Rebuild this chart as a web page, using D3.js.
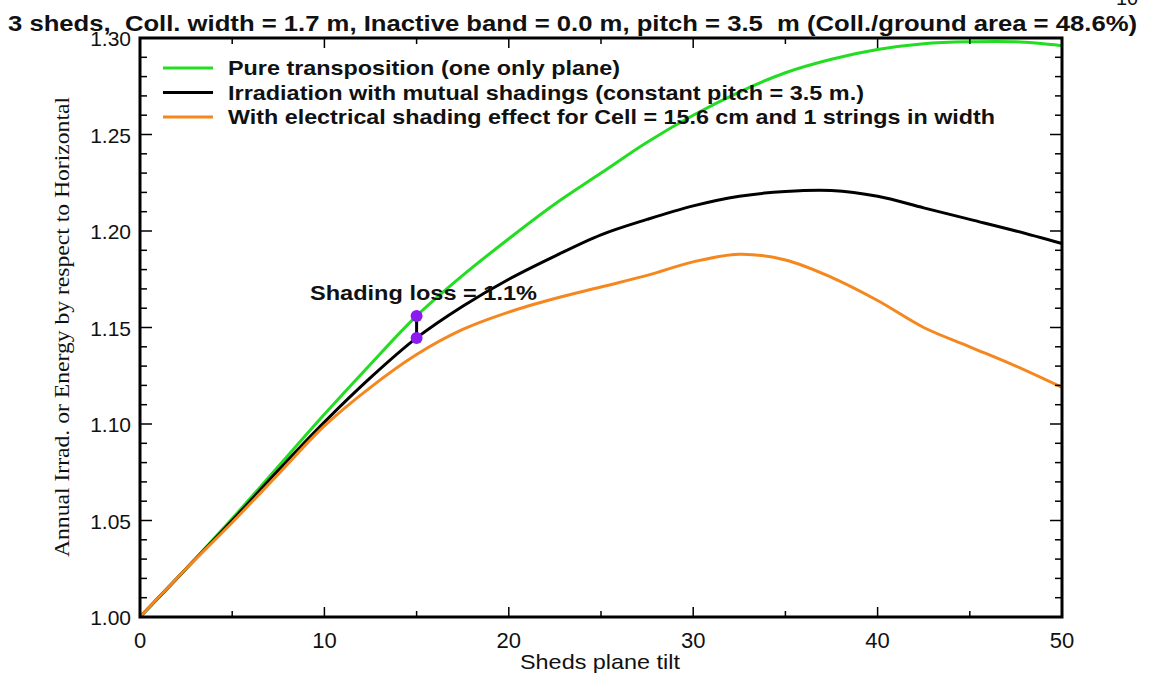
<!DOCTYPE html>
<html>
<head>
<meta charset="utf-8">
<script src="https://cdn.jsdelivr.net/npm/d3@7"></script>
<style>
  body { margin: 0; background: #fff; }
  svg text { font-family: "Liberation Sans", Arial, sans-serif; fill: #111; white-space: pre; }
</style>
</head>
<body>
<div id="chart"></div>
<script>
// data
const tilts = [0, 2.5, 5, 7.5, 10, 12.5, 15, 17.5, 20, 22.5, 25, 27.5, 30, 32.5, 35, 37.5, 40, 42.5, 45, 47.5, 50];
const pureTransposition = [1.000, 1.025, 1.051, 1.078, 1.105, 1.131, 1.156, 1.177, 1.196, 1.214, 1.230, 1.246, 1.260, 1.272, 1.282, 1.289, 1.294, 1.297, 1.298, 1.298, 1.296];
const mutualShadings = [1.000, 1.025, 1.050, 1.076, 1.101, 1.124, 1.1446, 1.161, 1.175, 1.187, 1.198, 1.206, 1.213, 1.218, 1.2205, 1.221, 1.218, 1.212, 1.206, 1.200, 1.1935];
const electricalShading = [1.000, 1.025, 1.049, 1.074, 1.099, 1.119, 1.136, 1.149, 1.158, 1.165, 1.171, 1.177, 1.184, 1.188, 1.185, 1.176, 1.164, 1.150, 1.140, 1.130, 1.119];
const seriesNames = [
  'Pure transposition (one only plane)',
  'Irradiation with mutual shadings (constant pitch = 3.5 m.)',
  'With electrical shading effect for Cell = 15.6 cm and 1 strings in width'
];
const seriesColors = ['#22dd22', '#000000', '#f5871f'];
const xTicks = [0, 10, 20, 30, 40, 50];
const yTicks = [1.00, 1.05, 1.10, 1.15, 1.20, 1.25, 1.30];
const lossTilt = 15;
const lossLabel = 'Shading loss = 1.1%';
const title = '3 sheds,  Coll. width = 1.7 m, Inactive band = 0.0 m, pitch = 3.5  m (Coll./ground area = 48.6%)';

const width = 1155, height = 675;
const margin = { top: 38, right: 93, bottom: 58, left: 140 };

const svg = d3.select('#chart').append('svg')
  .attr('width', width)
  .attr('height', height);

const x = d3.scaleLinear().domain([0, 50]).range([margin.left, width - margin.right]);
const y = d3.scaleLinear().domain([1.0, 1.3]).range([height - margin.bottom, margin.top]);

// curves
const allSeries = [pureTransposition, mutualShadings, electricalShading];
const line = d3.line()
  .x((d, i) => x(tilts[i]))
  .y(d => y(d))
  .curve(d3.curveCatmullRom.alpha(0.5));

svg.append('g').selectAll('path')
  .data(allSeries)
  .enter()
  .append('path')
  .attr('d', d => line(d))
  .attr('fill', 'none')
  .attr('stroke', (d, i) => seriesColors[i])
  .attr('stroke-width', 3);

// frame with inward ticks
const frame = svg.append('g');
const x0 = x.range()[0], x1 = x.range()[1], yb = y.range()[0], yt = y.range()[1];
frame.append('rect')
  .attr('x', x0).attr('y', yt)
  .attr('width', x1 - x0).attr('height', yb - yt)
  .attr('fill', 'none').attr('stroke', '#000').attr('stroke-width', 3);

const xMinor = d3.range(0, 50.01, 5);
xMinor.forEach(t => {
  const len = t % 10 === 0 ? 10 : 6;
  frame.append('line').attr('x1', x(t)).attr('x2', x(t)).attr('y1', yb).attr('y2', yb - len)
    .attr('stroke', '#000').attr('stroke-width', 1.5);
  frame.append('line').attr('x1', x(t)).attr('x2', x(t)).attr('y1', yt).attr('y2', yt + len)
    .attr('stroke', '#000').attr('stroke-width', 1.5);
});
const yMinor = d3.range(0, 31).map(i => 1 + i / 100);
yMinor.forEach((v, i) => {
  const len = i % 5 === 0 ? 12 : 7;
  frame.append('line').attr('x1', x0).attr('x2', x0 + len).attr('y1', y(v)).attr('y2', y(v))
    .attr('stroke', '#000').attr('stroke-width', 1.5);
  frame.append('line').attr('x1', x1).attr('x2', x1 - len).attr('y1', y(v)).attr('y2', y(v))
    .attr('stroke', '#000').attr('stroke-width', 1.5);
});

// tick labels
svg.append('g').selectAll('text')
  .data(xTicks)
  .enter()
  .append('text')
  .attr('x', d => x(d))
  .attr('y', yb + 31)
  .attr('text-anchor', 'middle')
  .attr('font-size', 22)
  .text(d => d);

svg.append('g').selectAll('text')
  .data(yTicks)
  .enter()
  .append('text')
  .attr('x', x0 - 9)
  .attr('y', d => y(d) + 8)
  .attr('text-anchor', 'end')
  .attr('font-size', 21)
  .text(d => d.toFixed(2));

// axis titles
svg.append('text')
  .attr('x', 520)
  .attr('y', 669)
  .attr('font-size', 21)
  .attr('textLength', 160)
  .attr('lengthAdjust', 'spacingAndGlyphs')
  .text('Sheds plane tilt');

svg.append('text')
  .attr('transform', 'translate(69, 557) rotate(-90)')
  .attr('font-size', 21)
  .attr('textLength', 460)
  .attr('lengthAdjust', 'spacingAndGlyphs')
  .style('font-family', '"Liberation Serif", "Times New Roman", serif')
  .text('Annual Irrad. or Energy by respect to Horizontal');

// title
svg.append('text')
  .attr('x', 8)
  .attr('y', 31)
  .attr('font-size', 22)
  .attr('font-weight', 'bold')
  .attr('textLength', 1129)
  .attr('lengthAdjust', 'spacingAndGlyphs')
  .text(title);

svg.append('text')
  .attr('x', 1116)
  .attr('y', 5)
  .attr('font-size', 20)
  .text('10');

// legend
const legendEnds = [620, 864, 995];
const legend = svg.append('g');
seriesNames.forEach((name, i) => {
  const ly = 68 + i * 24.5;
  legend.append('line')
    .attr('x1', 163).attr('x2', 213).attr('y1', ly).attr('y2', ly)
    .attr('stroke', seriesColors[i]).attr('stroke-width', 3);
  legend.append('text')
    .attr('x', 228).attr('y', ly + 7)
    .attr('font-size', 21)
    .attr('font-weight', 'bold')
    .attr('textLength', legendEnds[i] - 228)
    .attr('lengthAdjust', 'spacingAndGlyphs')
    .text(name);
});

// shading loss marker
const li = tilts.indexOf(lossTilt);
svg.append('line')
  .attr('x1', x(lossTilt)).attr('x2', x(lossTilt))
  .attr('y1', y(pureTransposition[li])).attr('y2', y(mutualShadings[li]))
  .attr('stroke', '#000').attr('stroke-width', 3);
svg.append('g').selectAll('circle')
  .data([pureTransposition[li], mutualShadings[li]])
  .enter()
  .append('circle')
  .attr('cx', x(lossTilt))
  .attr('cy', d => y(d))
  .attr('r', 6)
  .attr('fill', '#8a1cf0');
svg.append('text')
  .attr('x', 310)
  .attr('y', 300)
  .attr('font-size', 21)
  .attr('font-weight', 'bold')
  .attr('textLength', 227)
  .attr('lengthAdjust', 'spacingAndGlyphs')
  .text(lossLabel);
</script>
</body>
</html>
